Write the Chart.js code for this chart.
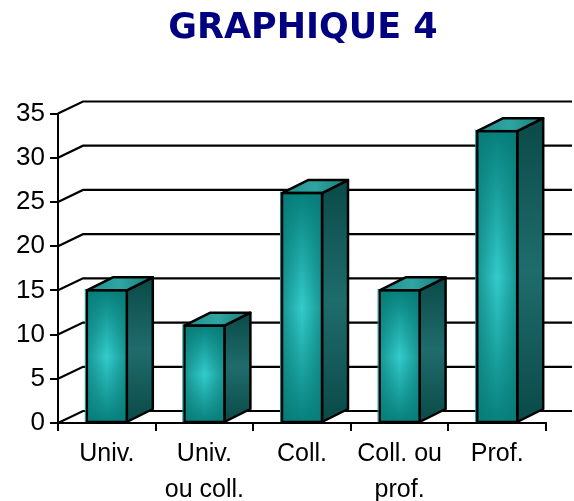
<!DOCTYPE html>
<html>
<head>
<meta charset="utf-8">
<title>Graphique 4</title>
<script src="https://cdn.jsdelivr.net/npm/chart.js@4"></script>
<style>
    html, body { margin: 0; padding: 0; background: #fff; }
    #box { width: 574px; height: 501px; }
</style>
</head>
<body>
<div id="box"><canvas id="graph"></canvas></div>
<script>
const titleText = "GRAPHIQUE 4";
const categories = ["Univ.", ["Univ.", "ou coll."], "Coll.", ["Coll. ou", "prof."], "Prof."];
const values = [15, 11, 26, 15, 33];
const yTicks = [0, 5, 10, 15, 20, 25, 30, 35];

// how far the back wall and the bar tops are pushed for the 3D look
const wallDx = 25, wallDy = 12;
const barDx = 26, barDy = 13;

function stops(grad, list) {
    list.forEach(function (s) { grad.addColorStop(s[0], s[1]); });
    return grad;
}

function poly(c, pts, fill) {
    c.beginPath();
    pts.forEach(function (p, i) { i ? c.lineTo(p[0], p[1]) : c.moveTo(p[0], p[1]); });
    c.closePath();
    c.fillStyle = fill;
    c.fill();
    c.stroke();
}

const wall = {
    id: "wall",
    afterLayout(chart) {
        // title sits right of the plot centre in the original
        chart.titleBlock.left += 60;
    },
    beforeDatasetsDraw(chart) {
        const c = chart.ctx, y = chart.scales.y, a = chart.chartArea;
        c.save();
        c.strokeStyle = "#000";
        c.lineWidth = 2.2;
        yTicks.forEach(function (v) {
            const py = y.getPixelForValue(v);
            c.beginPath();
            c.moveTo(a.left, py);
            c.lineTo(a.left + wallDx, py - wallDy);
            c.lineTo(572, py - wallDy);
            c.stroke();
        });
        c.restore();
    }
};

const sides = {
    id: "sides",
    beforeDatasetDraw(chart) {
        const c = chart.ctx;
        c.save();
        c.strokeStyle = "#000";
        c.lineWidth = 2.5;
        c.lineJoin = "round";
        chart.getDatasetMeta(0).data.forEach(function (bar) {
            const l = bar.x - bar.width / 2, r = bar.x + bar.width / 2;
            const t = bar.y, b = bar.base;
            const side = c.createLinearGradient(0, t - barDy, 0, b);
            stops(side, [[0, "#0a4a48"], [0.5, "#1f6c6c"], [1, "#0a4a48"]]);
            poly(c, [[r, t], [r + barDx, t - barDy], [r + barDx, b - barDy], [r, b]], side);
            const top = c.createLinearGradient(l, 0, r + barDx, 0);
            stops(top, [[0, "#1d8f8b"], [0.5, "#2fa5a1"], [1, "#167d79"]]);
            poly(c, [[l, t], [l + barDx, t - barDy], [r + barDx, t - barDy], [r, t]], top);
        });
        c.restore();
    },
    afterDatasetDraw(chart) {
        // darkens the sides of the front face so the bright spot sits in the middle
        const c = chart.ctx;
        c.save();
        chart.getDatasetMeta(0).data.forEach(function (bar) {
            const l = bar.x - bar.width / 2, r = bar.x + bar.width / 2;
            const g = c.createLinearGradient(l, 0, r, 0);
            stops(g, [[0, "rgba(8,120,116,.65)"], [0.5, "rgba(8,120,116,0)"], [1, "rgba(8,120,116,.65)"]]);
            c.fillStyle = g;
            c.fillRect(l + 1, bar.y + 1, bar.width - 2, bar.base - bar.y - 1);
            c.strokeStyle = "#000";
            c.lineWidth = 2.5;
            c.strokeRect(l, bar.y, bar.width, bar.base - bar.y);
            c.strokeStyle = "#128f8b";
            c.lineWidth = 1;
            c.beginPath();
            c.moveTo(l - 1.5, bar.base);
            c.lineTo(l - 1.5, bar.y - 1.5);
            c.stroke();
        });
        c.restore();
    }
};

new Chart(document.getElementById("graph"), {
    type: "bar",
    data: {
        labels: categories,
        datasets: [{
            data: values,
            backgroundColor: function (ctx) {
                const ch = ctx.chart;
                if (!ch.chartArea || ctx.raw === undefined) return "#1aa5a1";
                const y = ch.scales.y;
                const g = ch.ctx.createLinearGradient(0, y.getPixelForValue(ctx.raw), 0, y.getPixelForValue(0));
                return stops(g, [[0, "#07807c"], [0.5, "#33cccc"], [1, "#07807c"]]);
            },
            borderColor: "#000",
            borderWidth: 0,
            barThickness: 40
        }]
    },
    options: {
        responsive: true,
        maintainAspectRatio: false,
        animation: false,
        layout: { padding: { top: 0, left: 0, right: 28, bottom: 0 } },
        plugins: {
            legend: { display: false },
            tooltip: { enabled: false },
            title: {
                display: true,
                text: titleText,
                color: "#000080",
                font: { family: "'DejaVu Sans'", size: 35, weight: "bold", lineHeight: 1 },
                padding: { top: 11, bottom: 67.5 }
            }
        },
        scales: {
            x: {
                afterFit: function (s) { s.height = 78; },
                border: { color: "#000", width: 2 },
                grid: { color: "#000", lineWidth: 2, drawOnChartArea: false, tickLength: 8 },
                ticks: {
                    color: "#000",
                    maxRotation: 0,
                    autoSkip: false,
                    padding: 5,
                    font: { family: "'Liberation Sans'", size: 25, lineHeight: 1.45 }
                }
            },
            y: {
                min: 0,
                max: 35,
                afterFit: function (s) { s.width = 58; },
                border: { color: "#000", width: 2 },
                grid: { color: "#000", lineWidth: 2, drawOnChartArea: false, tickLength: 8 },
                ticks: {
                    stepSize: 5,
                    color: "#000",
                    padding: 5,
                    font: { family: "'Liberation Sans'", size: 26 }
                }
            }
        }
    },
    plugins: [wall, sides]
});
</script>
</body>
</html>
